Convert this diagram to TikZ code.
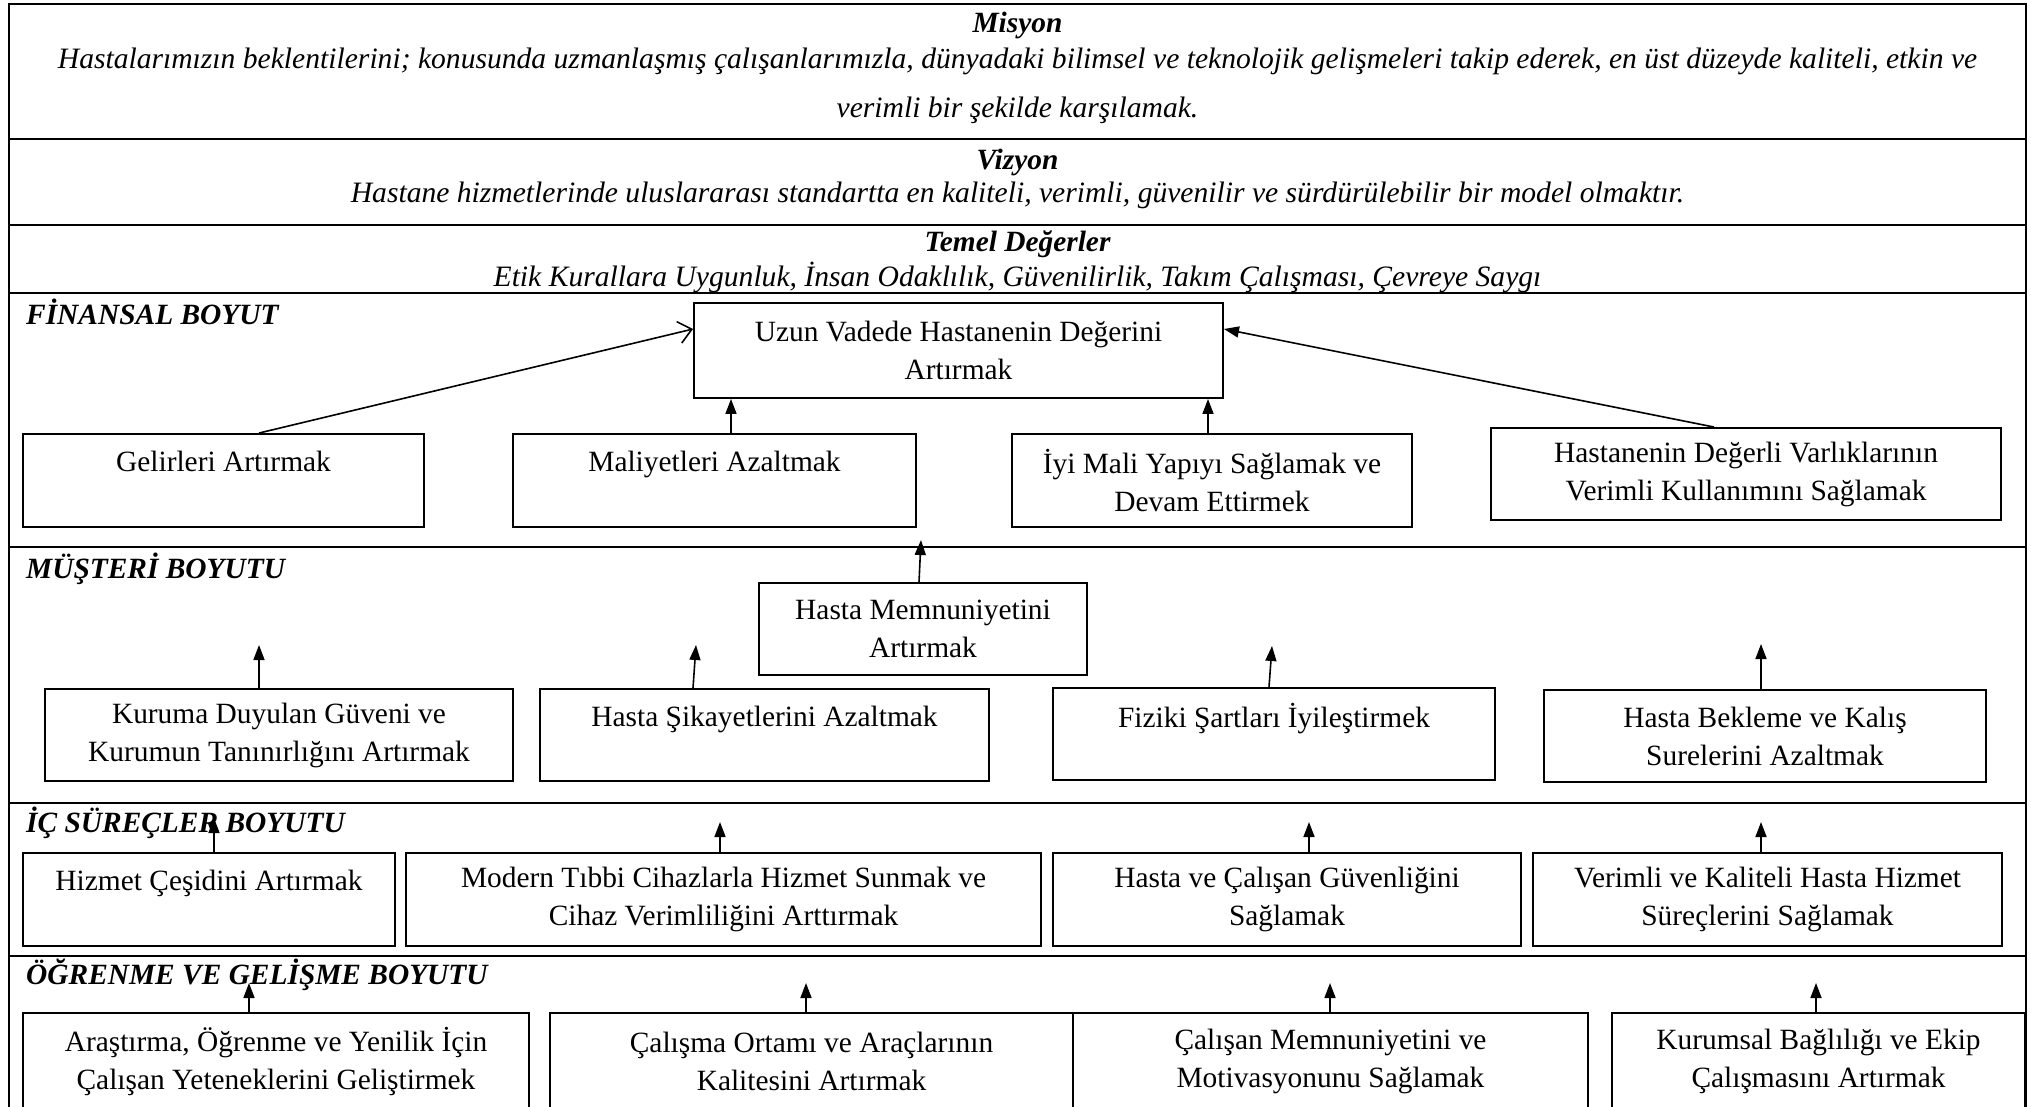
\documentclass[tikz,border=0pt]{standalone}
\usepackage{fontspec}
\setmainfont{Liberation Serif}
\usetikzlibrary{arrows.meta}
\newcommand\bodyfont{\fontsize{29.4}{38}\selectfont}
\begin{document}
\begin{tikzpicture}[x=1pt,y=-1pt,
  frame/.style={line width=2.8pt},
  goal/.style={draw, line width=1.9pt, align=center, inner sep=0pt, font=\bodyfont},
  up/.style={line width=1.6pt, -{Triangle[length=15pt,width=11pt]}},
  upopen/.style={line width=1.6pt, -{Straight Barb[length=13pt,width=22pt]}},
  dimlabel/.style={anchor=west, inner sep=0pt, font=\bodyfont\bfseries\itshape},
  headtitle/.style={inner sep=0pt, font=\bodyfont\bfseries\itshape},
  headtext/.style={inner sep=0pt, align=center, font=\fontsize{29.6}{38}\selectfont\itshape}]
\useasboundingbox (0,0) rectangle (2031,1106);
\clip (0,0) rectangle (2031,1106);
\fill[white] (0,0) rectangle (2031,1106);

% outer frame and band separators
\draw[frame] (9,4) rectangle (2026,1130);
\foreach \yy in {139,225,293,547,803,956} \draw[frame] (9,\yy) -- (2026,\yy);

% mission, vision, values
\node[headtitle] (mis) at (1017.5,25) {Misyon};
\node[headtext, font=\fontsize{29.6}{49}\selectfont\itshape] (mistext) at (1017.5,86)
  {Hastalarımızın beklentilerini; konusunda uzmanlaşmış çalışanlarımızla, dünyadaki bilimsel ve teknolojik gelişmeleri takip ederek, en üst düzeyde kaliteli, etkin ve\\verimli bir şekilde karşılamak.};
\node[headtitle] (viz) at (1017.5,162) {Vizyon};
\node[headtext] (viztext) at (1017.5,195) {Hastane hizmetlerinde uluslararası standartta en kaliteli, verimli, güvenilir ve sürdürülebilir bir model olmaktır.};
\node[headtitle] (tem) at (1017.5,244) {Temel Değerler};
\node[headtext] (temtext) at (1017.5,277) {Etik Kurallara Uygunluk, İnsan Odaklılık, Güvenilirlik, Takım Çalışması, Çevreye Saygı};

% dimension labels
\node[dimlabel] (fin) at (26,312) {FİNANSAL BOYUT};
\node[dimlabel] (mus) at (26,569) {MÜŞTERİ BOYUTU};
\node[dimlabel] (ics) at (26,823) {İÇ SÜREÇLER BOYUTU};
\node[dimlabel] (ogr) at (26,975) {ÖĞRENME VE GELİŞME BOYUTU};

% financial goals
\node[goal, minimum width=529pt, minimum height=95pt] (uzun) at (958.5,350.5) {Uzun Vadede Hastanenin Değerini\\Artırmak};
\node[goal, minimum width=401pt, minimum height=93pt] (gel) at (223.5,480.5) {Gelirleri Artırmak\\\mbox{}};
\node[goal, minimum width=403pt, minimum height=93pt] (mal) at (714.5,480.5) {Maliyetleri Azaltmak\\\mbox{}};
\node[goal, minimum width=400pt, minimum height=93pt] (iyi) at (1212,480.5) {İyi Mali Yapıyı Sağlamak ve\\Devam Ettirmek};
\node[goal, minimum width=510pt, minimum height=92pt] (hdv) at (1746,474) {Hastanenin Değerli Varlıklarının\\Verimli Kullanımını Sağlamak};

% customer goals
\node[goal, minimum width=328pt, minimum height=92pt] (hmem) at (923,629) {Hasta Memnuniyetini\\Artırmak};
\node[goal, minimum width=468pt, minimum height=92pt] (kur) at (279,735) {Kuruma Duyulan Güveni ve\\Kurumun Tanınırlığını Artırmak};
\node[goal, minimum width=449pt, minimum height=92pt] (sik) at (764.5,735) {Hasta Şikayetlerini Azaltmak\\\mbox{}};
\node[goal, minimum width=442pt, minimum height=92pt] (fiz) at (1274,734) {Fiziki Şartları İyileştirmek\\\mbox{}};
\node[goal, minimum width=442pt, minimum height=92pt] (bek) at (1765,736) {Hasta Bekleme ve Kalış\\Surelerini Azaltmak};

% internal process goals
\node[goal, minimum width=372pt, minimum height=93pt] (hiz) at (209,899.5) {Hizmet Çeşidini Artırmak\\\mbox{}};
\node[goal, minimum width=635pt, minimum height=93pt] (mod) at (723.5,899.5) {Modern Tıbbi Cihazlarla Hizmet Sunmak ve\\Cihaz Verimliliğini Arttırmak};
\node[goal, minimum width=468pt, minimum height=93pt] (hcg) at (1287,899.5) {Hasta ve Çalışan Güvenliğini\\Sağlamak};
\node[goal, minimum width=469pt, minimum height=93pt] (vkh) at (1767.5,899.5) {Verimli ve Kaliteli Hasta Hizmet\\Süreçlerini Sağlamak};

% learning and growth goals
\node[goal, minimum width=506pt, minimum height=97pt] (ara) at (276,1061.5) {Araştırma, Öğrenme ve Yenilik İçin\\Çalışan Yeteneklerini Geliştirmek};
\node[goal, minimum width=523pt, minimum height=97pt] (cal) at (811.5,1061.5) {Çalışma Ortamı ve Araçlarının\\Kalitesini Artırmak};
\node[goal, minimum width=515pt, minimum height=97pt] (cmm) at (1330.5,1061.5) {Çalışan Memnuniyetini ve\\Motivasyonunu Sağlamak};
\node[goal, minimum width=413pt, minimum height=97pt] (kbe) at (1818.5,1061.5) {Kurumsal Bağlılığı ve Ekip\\Çalışmasını Artırmak};

% connector guide coordinates
\coordinate (gx) at (259,329);
\coordinate (mx) at (731,0);
\coordinate (ix) at (1208,0);
\coordinate (hx) at (1714,329);
\coordinate (hmtip) at (921,540);
\coordinate (kurtip) at (259,645);
\coordinate (siktip) at (696,645);
\coordinate (fiztip) at (1272,646);
\coordinate (bektip) at (1761,644);
\coordinate (hiztip) at (214,818);
\coordinate (modtip) at (720,822);
\coordinate (hcgtip) at (1309,822);
\coordinate (vkhtip) at (1761,822);
\coordinate (aratip) at (249,983);
\coordinate (caltip) at (806,983);
\coordinate (cmmtip) at (1330,983);
\coordinate (kbetip) at (1816,983);

% financial links
\draw[upopen] (gel.north -| gx) -- (uzun.west |- gx);
\draw[up] (mal.north -| mx) -- (uzun.south -| mx);
\draw[up] (iyi.north -| ix) -- (uzun.south -| ix);
\draw[up] (hdv.north -| hx) -- (uzun.east |- hx);

% customer links
\draw[up] (hmem.north -| 919,0) -- (hmtip);
\draw[up] (kur.north -| kurtip) -- (kurtip);
\draw[up] (sik.north -| 693,0) -- (siktip);
\draw[up] (fiz.north -| 1269,0) -- (fiztip);
\draw[up] (bek.north -| bektip) -- (bektip);

% internal process links
\draw[up] (hiz.north -| hiztip) -- (hiztip);
\draw[up] (mod.north -| modtip) -- (modtip);
\draw[up] (hcg.north -| hcgtip) -- (hcgtip);
\draw[up] (vkh.north -| vkhtip) -- (vkhtip);

% learning and growth links
\draw[up] (ara.north -| aratip) -- (aratip);
\draw[up] (cal.north -| caltip) -- (caltip);
\draw[up] (cmm.north -| cmmtip) -- (cmmtip);
\draw[up] (kbe.north -| kbetip) -- (kbetip);
\end{tikzpicture}
\end{document}
